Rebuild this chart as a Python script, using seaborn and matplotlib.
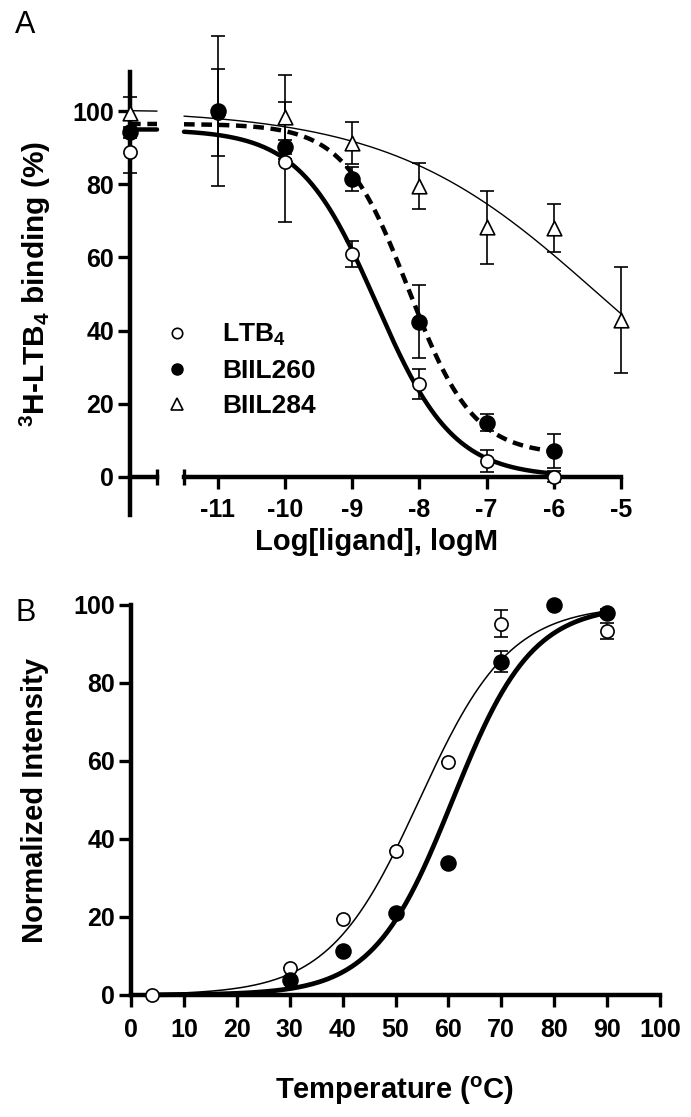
import numpy as np
import pandas as pd
import matplotlib
matplotlib.use("Agg")
import matplotlib.pyplot as plt
import seaborn as sns
from matplotlib.lines import Line2D

# ---- panel A: 3H-LTB4 competition binding ----
log_conc = [-11, -10, -9, -8, -7, -6]
log_conc_284 = [-10, -9, -8, -7, -6, -5]
ctrl_x = -14.0  # no-ligand control, drawn on the short broken piece of the axis

ltb4_ctrl, ltb4_ctrl_err = 88.8, 5.8
ltb4_y = [99.6, 86.2, 60.9, 25.4, 4.4, 0.0]
ltb4_err = [11.8, 16.4, 3.5, 4.0, 3.0, 1.5]

biil260_ctrl, biil260_ctrl_err = 94.2, 1.5
biil260_y = [100.0, 90.2, 81.4, 42.4, 14.8, 7.1]
biil260_err = [20.5, 1.8, 3.2, 10.0, 2.3, 4.6]

biil284_ctrl, biil284_ctrl_err = 99.5, 4.3
biil284_y = [98.4, 91.3, 79.5, 68.3, 68.0, 42.9]
biil284_err = [11.6, 5.8, 6.2, 10.0, 6.5, 14.4]

# sigmoidal fit parameters: top, bottom, logIC50, hill
fit_ltb4 = (95.0, 0.0, -8.64, 0.76)
fit_biil260 = (96.5, 6.0, -8.16, 0.90)
fit_biil284 = (100.5, 0.0, -5.35, 0.28)

# ---- panel B: thermal melting ----
temp_open = [4, 30, 40, 50, 60, 70, 90]
open_y = [0.0, 7.0, 19.5, 36.9, 59.7, 95.2, 93.4]
open_err = [0, 0, 0, 0, 0, 3.5, 2.0]
temp_filled = [30, 40, 50, 60, 70, 80, 90]
filled_y = [3.8, 11.4, 21.1, 33.9, 85.4, 100.0, 97.9]
filled_err = [0, 0, 0, 0, 2.7, 0, 1.0]

# Boltzmann fit parameters: midpoint, slope
fit_open = (54.5, 8.55)
fit_filled = (60.8, 7.5)


def dose_response(x, top, bottom, logic50, hill):
    return bottom + (top - bottom) / (1 + 10 ** ((x - logic50) * hill))


def boltzmann(t, mid, slope):
    return 100.0 / (1 + np.exp((mid - t) / slope))


sns.set_theme(style="ticks")
plt.rcParams["font.family"] = ["Liberation Sans", "DejaVu Sans"]
plt.rcParams["font.weight"] = "bold"
plt.rcParams["mathtext.fontset"] = "custom"
for k in ["rm", "it", "bf", "sf"]:
    plt.rcParams["mathtext." + k] = "Liberation Sans:bold"
for k in ["text.color", "axes.labelcolor", "xtick.color", "ytick.color",
          "axes.edgecolor"]:
    plt.rcParams[k] = "black"

W, H = 691, 1117
fig = plt.figure(figsize=(W / 100, H / 100), dpi=100)


def box(x0, x1, ytop, ybot):
    return [x0 / W, 1 - ybot / H, (x1 - x0) / W, (ybot - ytop) / H]


SPINE = 3.2
TICK_W = 2.4
TICK_FS = 18
LABEL_FS = 21

ax_ctrl = fig.add_axes(box(130, 157, 72, 515))
ax_a = fig.add_axes(box(184, 621, 72, 515))
ax_b = fig.add_axes(box(131, 660, 605, 995))

ylim_a = (-10.4, 110.7)
for ax in (ax_ctrl, ax_a):
    ax.set_ylim(*ylim_a)
    ax.patch.set_alpha(0)
    for s in ["top", "right"]:
        ax.spines[s].set_visible(False)
    ax.spines["bottom"].set_position(("data", 0))
    ax.spines["bottom"].set_linewidth(SPINE)
    ax.spines["left"].set_linewidth(SPINE)

ax_ctrl.set_xlim(ctrl_x, ctrl_x + 0.4)
ax_a.set_xlim(-11.5, -5)
ax_a.spines["left"].set_visible(False)

ax_ctrl.set_yticks(range(0, 101, 20))
ax_ctrl.tick_params(axis="y", direction="out", length=8.5, width=TICK_W,
                    labelsize=TICK_FS, pad=3)
ax_ctrl.set_xticks([])
ax_ctrl.set_xticks([ctrl_x + 0.4], minor=True)
ax_ctrl.tick_params(axis="x", which="minor", direction="inout", length=11,
                    width=TICK_W)

ax_a.set_yticks([])
ax_a.set_xticks(range(-11, -4))
ax_a.tick_params(axis="x", direction="out", length=8.5, width=TICK_W,
                 labelsize=TICK_FS, pad=7)
ax_a.set_xticks([-11.5], minor=True)
ax_a.tick_params(axis="x", which="minor", direction="inout", length=11,
                 width=TICK_W)
ax_a.xaxis.set_major_formatter(matplotlib.ticker.FuncFormatter(lambda v, p: f"{int(v)}"))

# fitted curves
x_ctrl = np.linspace(ctrl_x, ctrl_x + 0.4, 20)
x_fit = np.linspace(-11.5, -6, 200)
x_fit284 = np.linspace(-11.5, -5, 200)
curve_styles = [
    (fit_ltb4, x_fit, dict(lw=3.2, ls="-")),
    (fit_biil260, x_fit, dict(lw=3.2, ls=(0, (2.4, 1.5)))),
    (fit_biil284, x_fit284, dict(lw=1.0, ls="-")),
]
for params, xs, st in curve_styles:
    for ax, xx in ((ax_ctrl, x_ctrl), (ax_a, xs)):
        df = pd.DataFrame({"x": xx, "y": dose_response(xx, *params)})
        sns.lineplot(data=df, x="x", y="y", ax=ax, color="black",
                     linewidth=st["lw"], linestyle=st["ls"], clip_on=False,
                     zorder=2)

# data points
EB = dict(fmt="none", ecolor="black", elinewidth=1.2, capsize=5, capthick=1.2,
          clip_on=False, zorder=3)
ax_ctrl.errorbar([ctrl_x] * 3, [ltb4_ctrl, biil260_ctrl, biil284_ctrl],
                 yerr=[ltb4_ctrl_err, biil260_ctrl_err, biil284_ctrl_err], **EB)
ax_a.errorbar(log_conc, ltb4_y, yerr=ltb4_err, **EB)
ax_a.errorbar(log_conc, biil260_y, yerr=biil260_err, **EB)
ax_a.errorbar(log_conc_284, biil284_y, yerr=biil284_err, **EB)

sets = [
    ([ctrl_x], [ltb4_ctrl], log_conc, ltb4_y, "o", "white", 90),
    ([ctrl_x], [biil284_ctrl], log_conc_284, biil284_y, "^", "white", 110),
    ([ctrl_x], [biil260_ctrl], log_conc, biil260_y, "o", "black", 115),
]
for cx, cy, xs, ys, mk, fc, sz in sets:
    sns.scatterplot(x=cx, y=cy, ax=ax_ctrl, marker=mk, s=sz, facecolor=fc,
                    edgecolor="black", linewidth=1.2, clip_on=False, zorder=4)
    sns.scatterplot(x=xs, y=ys, ax=ax_a, marker=mk, s=sz, facecolor=fc,
                    edgecolor="black", linewidth=1.2, clip_on=False, zorder=4)
for ax in (ax_ctrl, ax_a):
    ax.set_xlabel("")
    ax.set_ylabel("")

handles = [
    Line2D([], [], ls="none", marker="o", ms=7.5, mfc="white", mec="black", mew=1.2),
    Line2D([], [], ls="none", marker="o", ms=8, mfc="black", mec="black"),
    Line2D([], [], ls="none", marker="^", ms=8, mfc="white", mec="black", mew=1.2),
]
ax_a.legend(handles, ["LTB$_4$", "BIIL260", "BIIL284"], loc="upper left",
            bbox_to_anchor=(164 / W, 1 - 322 / H), bbox_transform=fig.transFigure,
            frameon=False, fontsize=19, handlelength=1.0, handletextpad=1.2,
            labelspacing=0.42, borderpad=0, borderaxespad=0)

fig.text(35 / W, 1 - 284 / H, "$^{3}$H-LTB$_{4}$ binding (%)", rotation=90,
         ha="center", va="center", fontsize=21.5)
fig.text(377 / W, 1 - 542 / H, "Log[ligand], logM", ha="center", va="center",
         fontsize=LABEL_FS)
fig.text(15 / W, 1 - 33 / H, "A", fontsize=22, fontweight="normal")

# ---- panel B ----
ax_b.set_xlim(0, 100)
ax_b.set_ylim(0, 100)
for s in ["top", "right"]:
    ax_b.spines[s].set_visible(False)
for s in ["left", "bottom"]:
    ax_b.spines[s].set_linewidth(SPINE)
ax_b.set_xticks(range(0, 101, 10))
ax_b.set_yticks(range(0, 101, 20))
ax_b.tick_params(direction="out", length=8.5, width=TICK_W, labelsize=TICK_FS)
ax_b.tick_params(axis="y", pad=3)
ax_b.tick_params(axis="x", pad=8)

t_fit = np.linspace(4, 90, 200)
df_open = pd.DataFrame({"t": t_fit, "y": boltzmann(t_fit, *fit_open)})
df_filled = pd.DataFrame({"t": t_fit, "y": boltzmann(t_fit, *fit_filled)})
sns.lineplot(data=df_open, x="t", y="y", ax=ax_b, color="black", linewidth=1.1,
             clip_on=False, zorder=2)
sns.lineplot(data=df_filled, x="t", y="y", ax=ax_b, color="black", linewidth=3.4,
             clip_on=False, zorder=2)
ax_b.errorbar(temp_open, open_y, yerr=open_err, **EB)
ax_b.errorbar(temp_filled, filled_y, yerr=filled_err, **EB)
sns.scatterplot(x=temp_open, y=open_y, ax=ax_b, marker="o", s=90,
                facecolor="white", edgecolor="black", linewidth=1.2,
                clip_on=False, zorder=4)
sns.scatterplot(x=temp_filled, y=filled_y, ax=ax_b, marker="o", s=115,
                facecolor="black", edgecolor="black", linewidth=1.2,
                clip_on=False, zorder=4)
ax_b.set_xlabel("")
ax_b.set_ylabel("")

fig.text(35 / W, 1 - 800 / H, "Normalized Intensity", rotation=90,
         ha="center", va="center", fontsize=LABEL_FS)
fig.text(395 / W, 1 - 1091 / H, "Temperature ($^{\\mathrm{o}}$C)", ha="center",
         va="center", fontsize=LABEL_FS)
fig.text(15 / W, 1 - 621 / H, "B", fontsize=22, fontweight="normal")

fig.savefig("out.png", dpi=100)
